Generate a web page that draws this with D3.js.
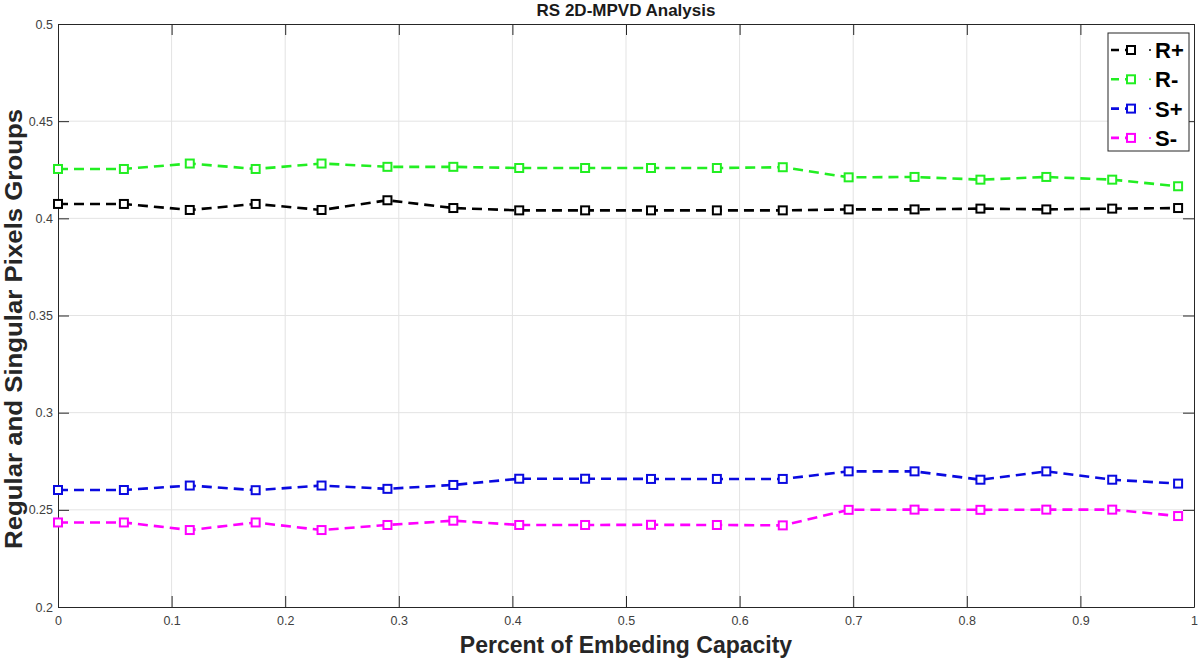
<!DOCTYPE html>
<html><head><meta charset="utf-8">
<script src="https://cdn.jsdelivr.net/npm/d3@7"></script>
<style>body{margin:0;background:#fff}svg{display:block;font-family:"Liberation Sans",Arial,sans-serif}</style>
</head><body><svg id="c" width="1200" height="660"></svg>
<script>
const xValues = [0, 0.058, 0.116, 0.174, 0.232, 0.29, 0.348, 0.406, 0.464, 0.522, 0.58, 0.638, 0.696, 0.754, 0.812, 0.87, 0.928, 0.986];
const rPlus  = [0.4074, 0.4074, 0.4043, 0.4074, 0.4043, 0.4093, 0.4053, 0.4041, 0.4041, 0.4041, 0.4041, 0.4041, 0.4046, 0.4046, 0.4050, 0.4046, 0.4050, 0.4053];
const rMinus = [0.4254, 0.4254, 0.4282, 0.4254, 0.4282, 0.4265, 0.4265, 0.4259, 0.4259, 0.4259, 0.4259, 0.4263, 0.4211, 0.4213, 0.4199, 0.4213, 0.4199, 0.4165];
const sPlus  = [0.2602, 0.2602, 0.2625, 0.2601, 0.2625, 0.2608, 0.2628, 0.2660, 0.2660, 0.2659, 0.2659, 0.2659, 0.2698, 0.2698, 0.2655, 0.2698, 0.2655, 0.2635];
const sMinus = [0.2435, 0.2435, 0.2396, 0.2435, 0.2396, 0.2422, 0.2444, 0.2422, 0.2422, 0.2423, 0.2422, 0.2420, 0.2500, 0.2501, 0.2500, 0.2501, 0.2501, 0.2468];
const seriesNames = ["R+", "R-", "S+", "S-"];
const xTicks = [0, 0.1, 0.2, 0.3, 0.4, 0.5, 0.6, 0.7, 0.8, 0.9, 1];
const yTicks = [0.2, 0.25, 0.3, 0.35, 0.4, 0.45, 0.5];
const titleText = "RS 2D-MPVD Analysis";
const xLabel = "Percent of Embeding Capacity";
const yLabel = "Regular and Singular Pixels Groups";

const colors = ["#000000", "#22ee22", "#0a0ae0", "#ff00ff"];
const series = [rPlus, rMinus, sPlus, sMinus].map((v, i) => ({name: seriesNames[i], color: colors[i], values: v}));

const svg = d3.select("#c");
const L = 58, R = 1194, T = 24, B = 607;
const x = d3.scaleLinear().domain([0, 1]).range([L, R]);
const y = d3.scaleLinear().domain([0.2, 0.5]).range([B, T]);
const axisColor = "#262626";

// grid
const g = svg.append("g");
g.selectAll(".gx").data(xTicks.slice(1, -1)).join("line")
  .attr("x1", d => x(d)).attr("x2", d => x(d)).attr("y1", T).attr("y2", B)
  .attr("stroke", "#e3e3e3").attr("stroke-width", 1);
g.selectAll(".gy").data(yTicks.slice(1, -1)).join("line")
  .attr("y1", d => y(d)).attr("y2", d => y(d)).attr("x1", L).attr("x2", R)
  .attr("stroke", "#e3e3e3").attr("stroke-width", 1);

// axes
const fmt = d => d3.format("~g")(d);
const xAxis = svg.append("g").attr("transform", `translate(0,${B})`)
  .call(d3.axisBottom(x).tickValues(xTicks).tickFormat(fmt).tickSizeInner(-11).tickSizeOuter(0).tickPadding(9));
const xAxisTop = svg.append("g").attr("transform", `translate(0,${T})`)
  .call(d3.axisTop(x).tickValues(xTicks).tickFormat("").tickSizeInner(-11).tickSizeOuter(0));
const yAxis = svg.append("g").attr("transform", `translate(${L},0)`)
  .call(d3.axisLeft(y).tickValues(yTicks).tickFormat(fmt).tickSizeInner(-11).tickSizeOuter(0).tickPadding(5));
const yAxisR = svg.append("g").attr("transform", `translate(${R},0)`)
  .call(d3.axisRight(y).tickValues(yTicks).tickFormat("").tickSizeInner(-11).tickSizeOuter(0));
[xAxis, xAxisTop, yAxis, yAxisR].forEach(a => {
  a.selectAll("path").attr("stroke", axisColor).attr("stroke-width", 1);
  a.selectAll("line").attr("stroke", axisColor).attr("stroke-width", 1);
  a.selectAll("text").attr("fill", "#404040").attr("font-size", 12.5).attr("font-family", "Liberation Sans, Arial, sans-serif");
});

// lines
const line = d3.line().x((d, i) => x(xValues[i])).y(d => y(d));
const sg = svg.append("g");
series.forEach(s => {
  sg.append("path").datum(s.values).attr("d", line)
    .attr("fill", "none").attr("stroke", s.color).attr("stroke-width", 2.6)
    .attr("stroke-dasharray", "10,6");
  sg.selectAll(null).data(s.values).join("rect")
    .attr("x", (d, i) => x(xValues[i]) - 4).attr("y", d => y(d) - 4)
    .attr("width", 8).attr("height", 8)
    .attr("fill", "#fff").attr("stroke", s.color).attr("stroke-width", 2);
});

// title & labels
svg.append("text").attr("x", (L + R) / 2).attr("y", 16).attr("text-anchor", "middle")
  .attr("font-size", 17).attr("font-weight", "bold").attr("fill", "#1a1a1a").text(titleText);
svg.append("text").attr("x", (L + R) / 2).attr("y", 653).attr("text-anchor", "middle")
  .attr("font-size", 23).attr("font-weight", "bold").attr("fill", "#262626").text(xLabel);
svg.append("text").attr("transform", `translate(22,329) rotate(-90)`).attr("text-anchor", "middle")
  .attr("font-size", 24).attr("font-weight", "bold").attr("fill", "#262626")
  .attr("textLength", 440).attr("lengthAdjust", "spacingAndGlyphs").text(yLabel);

// legend
const lg = svg.append("g");
lg.append("rect").attr("x", 1108).attr("y", 33).attr("width", 81).attr("height", 118)
  .attr("fill", "#fff").attr("stroke", axisColor).attr("stroke-width", 1);
series.forEach((s, i) => {
  const cy = 50 + i * 29.3;
  lg.append("line").attr("x1", 1111).attr("x2", 1139).attr("y1", cy).attr("y2", cy)
    .attr("stroke", s.color).attr("stroke-width", 2.6).attr("stroke-dasharray", "8,6");
  lg.append("rect").attr("x", 1127).attr("y", cy - 4).attr("width", 8).attr("height", 8)
    .attr("fill", "#fff").attr("stroke", s.color).attr("stroke-width", 2);
  lg.append("circle").attr("cx", 1150).attr("cy", cy).attr("r", 1).attr("fill", s.color);
  lg.append("text").attr("x", 1155).attr("y", cy + 8).attr("font-size", 22).attr("font-weight", "bold")
    .attr("fill", "#000").text(s.name);
});
</script></body></html>
